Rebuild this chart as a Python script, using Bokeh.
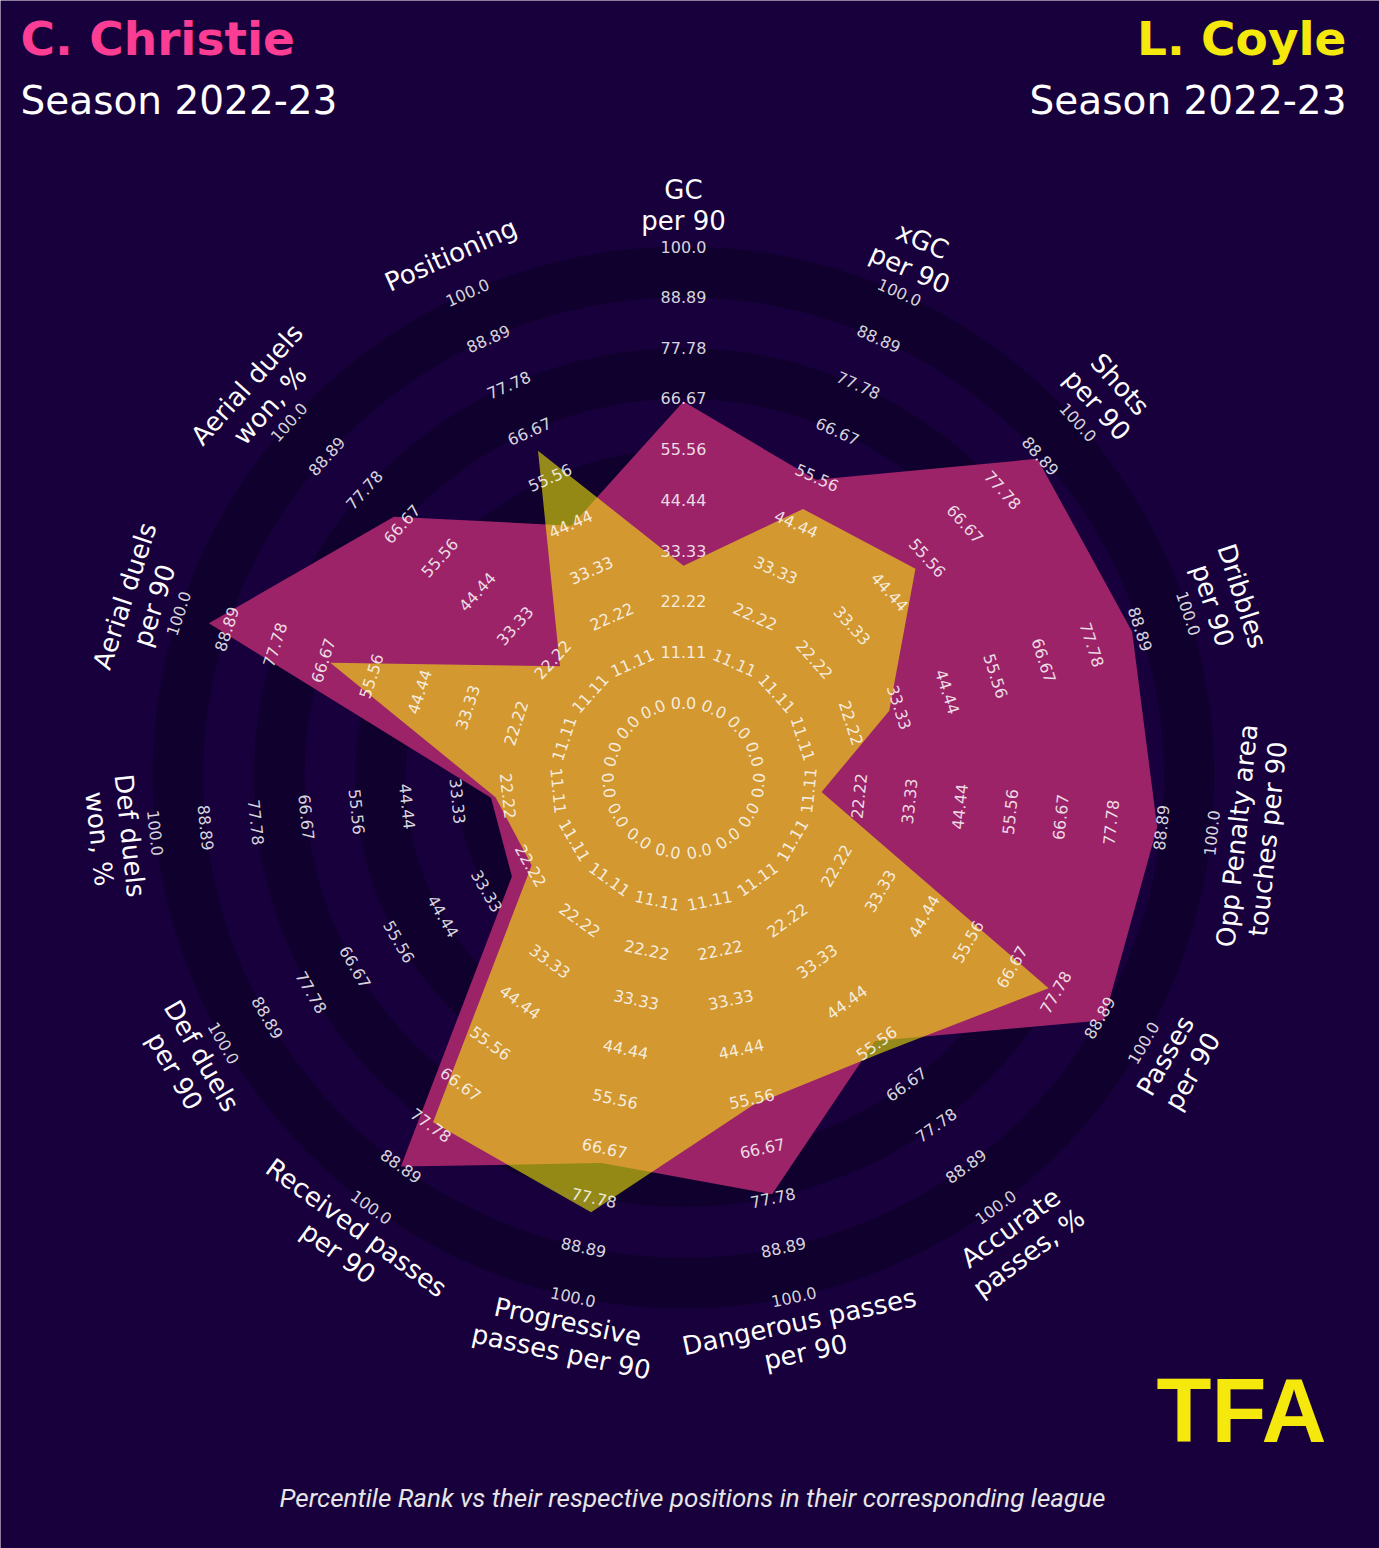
import numpy as np
from bokeh.plotting import figure
from bokeh.models import Range1d, ColumnDataSource
from bokeh.core.properties import value
from bokeh.embed import file_html
from bokeh.resources import INLINE

# ---------------- data ----------------
params = [
    "GC\nper 90", "xGC\nper 90", "Shots\nper 90", "Dribbles\nper 90",
    "Opp Penalty area\ntouches per 90", "Passes\nper 90", "Accurate\npasses, %",
    "Dangerous passes\nper 90", "Progressive\npasses per 90", "Received passes\nper 90",
    "Def duels\nper 90", "Def duels\nwon, %", "Aerial duels\nper 90",
    "Aerial duels\nwon, %", "Positioning",
]
christie = [66, 55, 88, 87, 88, 90, 55, 77, 70, 89, 27, 26, 93, 69, 44]
coyle = [30, 48, 52, 31, 14, 76, 58, 57, 81, 77, 22, 25, 65, 20, 62]
tick_labels = ["0.0", "11.11", "22.22", "33.33", "44.44", "55.56", "66.67", "77.78", "88.89", "100.0"]
tick_values = [0.0, 11.11, 22.22, 33.33, 44.44, 55.56, 66.67, 77.78, 88.89, 100.0]
player_left = "C. Christie"
player_right = "L. Coyle"
season_text = "Season 2022-23"
footer_text = "Percentile Rank vs their respective positions in their corresponding league"
logo_text = "TFA"

# ---------------- styling ----------------
W, H = 1379, 1548
CX, CY = 683, 777          # centre of radar in screen px
R0, R100 = 75.0, 531.0     # radius of value 0 and value 100
RLAB = 572.0               # radius of parameter labels
BG = "#18003c"
RING = "#10002e"
MAGENTA = "#9d2369"
YELLOW = "#fffa00"
PINK = "#fb3d93"
TITLE_YELLOW = "#f4e80c"


def rad(v):
    return R0 + (R100 - R0) * np.asarray(v, dtype=float) / 100.0


def sx(x):
    return x - CX


def sy(y):
    return CY - y


n = len(params)
ang_deg = 90.0 - 360.0 / n * np.arange(n)
ang = np.deg2rad(ang_deg)


def text_rot(a):
    r = a - 90.0
    while r <= -90.0:
        r += 180.0
    while r > 90.0:
        r -= 180.0
    return r


rots = [text_rot(a) for a in ang_deg]

p = figure(width=W, height=H,
           x_range=Range1d(-CX, W - CX), y_range=Range1d(CY - H, CY),
           x_axis_type=None, y_axis_type=None,
           toolbar_location=None, output_backend="svg",
           min_border=0, background_fill_color=BG, border_fill_color=BG,
           outline_line_color=None)

# rings (dark bands between alternate tick radii)
tick_r = rad(tick_values)
inner = [tick_r[i] for i in range(0, 9, 2)]
outer = [tick_r[i + 1] for i in range(0, 9, 2)]
p.annulus(x=[0] * len(inner), y=[0] * len(inner), inner_radius=inner,
          outer_radius=outer, fill_color=RING, line_color=None)

# polygons
def poly(vals):
    r = rad(vals)
    return list(r * np.cos(ang)), list(r * np.sin(ang))

cx_, cy_ = poly(christie)
p.patch(cx_, cy_, fill_color=MAGENTA, fill_alpha=1.0, line_color=None)
yx_, yy_ = poly(coyle)
p.patch(yx_, yy_, fill_color=YELLOW, fill_alpha=0.55, line_color=None)

# range labels on each axis
lx, ly, lt, la = [], [], [], []
for i in range(n):
    for t, lab in zip(tick_values, tick_labels):
        r = rad(t)
        lx.append(r * np.cos(ang[i]))
        ly.append(r * np.sin(ang[i]))
        lt.append(lab)
        la.append(np.deg2rad(rots[i]))
src = ColumnDataSource(dict(x=lx, y=ly, text=lt, angle=la))
p.text(x="x", y="y", text="text", angle="angle", source=src,
       text_align="center", text_baseline="middle",
       text_font=value("DejaVu Sans"), text_font_size="16px",
       text_color="#fcfcfc", text_alpha=0.85)

# parameter labels
px = list(RLAB * np.cos(ang))
py = list(RLAB * np.sin(ang))
psrc = ColumnDataSource(dict(x=px, y=py, text=params, angle=[np.deg2rad(r) for r in rots]))
p.text(x="x", y="y", text="text", angle="angle", source=psrc,
       text_align="center", text_baseline="middle",
       text_font=value("DejaVu Sans"), text_font_size="26px",
       text_color="#fcfcfc", text_line_height=1.03)

# titles
p.text(x=[sx(20)], y=[sy(38)], text=[player_left], text_align="left", text_baseline="middle",
       text_font=value("DejaVu Sans"), text_font_style="bold", text_font_size="47px",
       text_color=PINK)
p.text(x=[sx(20)], y=[sy(100)], text=[season_text], text_align="left", text_baseline="middle",
       text_font=value("DejaVu Sans"), text_font_size="39px", text_color="#ffffff")
p.text(x=[sx(1346)], y=[sy(38)], text=[player_right], text_align="right", text_baseline="middle",
       text_font=value("DejaVu Sans"), text_font_style="bold", text_font_size="47px",
       text_color=TITLE_YELLOW)
p.text(x=[sx(1346)], y=[sy(100)], text=[season_text], text_align="right", text_baseline="middle",
       text_font=value("DejaVu Sans"), text_font_size="39px", text_color="#ffffff")

# footer
p.text(x=[sx(692)], y=[sy(1497)], text=[footer_text], text_align="center", text_baseline="middle",
       text_font=value("Roboto"), text_font_style="italic", text_font_size="26px",
       text_color="#e6e6e6")

# logo
p.text(x=[sx(1241)], y=[sy(1410)], text=[logo_text], text_align="center", text_baseline="middle",
       text_font=value("Liberation Sans"), text_font_style="bold", text_font_size="90px",
       text_color=TITLE_YELLOW)

open("out.html", "w").write(file_html(p, INLINE))
